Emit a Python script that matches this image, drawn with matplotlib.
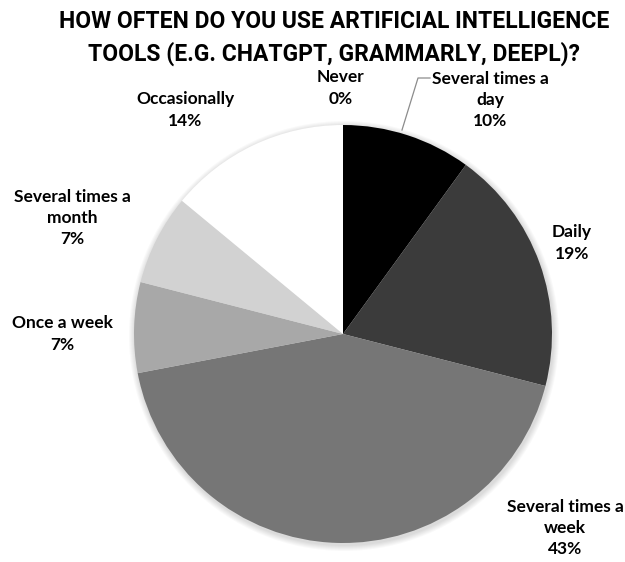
import matplotlib.pyplot as plt
from matplotlib.patches import Circle

# ---------------------- Data ------------------------
categories = [
    "Several times a\nday",
    "Daily",
    "Several times a\nweek",
    "Once a week",
    "Several times a\nmonth",
    "Occasionally",
    "Never",
]
shares = [10, 19, 43, 7, 7, 14, 0]
colors = ["#000000", "#3b3b3b", "#767676", "#a8a8a8", "#d2d2d2", "#ffffff", "#f2f2f2"]

# label anchor positions in figure pixels (x, y from top)
label_pos = [(490, 100), (572, 243), (565, 528), (62, 334), (72, 218), (185, 110), (341, 88)]

W, H = 625, 562
cx, cy, radius = 343, 334, 209

fig = plt.figure(figsize=(W / 100, H / 100), dpi=100)
ax = fig.add_axes([0, 0, 1, 1])

# soft shadow around the pie
for k in range(6):
    ax.add_patch(Circle((cx + 1, H - cy - 2), radius + 6 - k, color="#000000",
                        alpha=0.025, lw=0, zorder=0))

ax.pie(
    shares,
    colors=colors,
    startangle=90,
    counterclock=False,
    center=(cx, H - cy),
    radius=radius,
    wedgeprops={"linewidth": 0},
    frame=True,
)
ax.set_xlim(0, W)
ax.set_ylim(0, H)
ax.set_aspect("equal")
ax.axis("off")

font = ["Lato", "DejaVu Sans"]
for name, val, (x, y) in zip(categories, shares, label_pos):
    ax.text(x, H - y, f"{name}\n{val}%", ha="center", va="center",
            fontsize=12.5, fontweight="bold", family=font, linespacing=1.4,
            color="#000000")

# leader line for "Several times a day"
ax.plot([402, 418, 430], [H - 130, H - 78, H - 78], color="#8c8c8c", lw=0.9)

fig.text(0.535, 0.932, "HOW OFTEN DO YOU USE ARTIFICIAL INTELLIGENCE\nTOOLS (E.G. CHATGPT, GRAMMARLY, DEEPL)?",
         ha="center", va="center", fontsize=16.5, fontweight="bold", family=["Roboto", "DejaVu Sans"],
         linespacing=1.45)

plt.savefig("out.png", dpi=100)
